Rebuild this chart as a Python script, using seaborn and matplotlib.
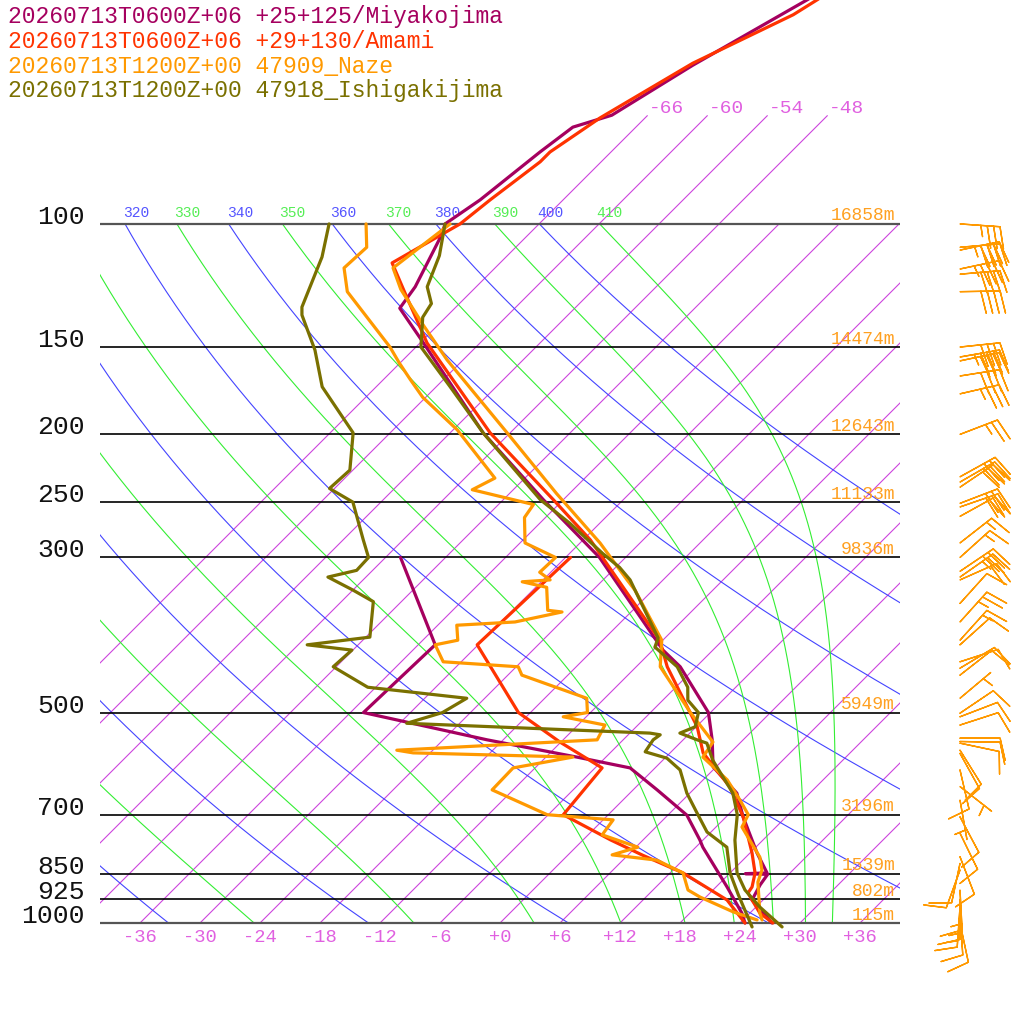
import numpy as np
import pandas as pd
import seaborn as sns
import matplotlib
matplotlib.use("Agg")
import matplotlib.pyplot as plt
from matplotlib.transforms import Affine2D

# ---- soundings: pressure (hPa) / temperature (degC) ----
miyako_p = [45, 47.8, 59.3, 69.9, 72.7, 78.9, 92.4, 100, 104, 123, 132, 147, 199, 248, 300,
            407, 430, 500, 547, 598, 652, 705, 794, 848, 850, 852, 882, 927, 1000]
miyako_t = [-60.2, -61.6, -66.5, -69.6, -72.3, -73.1, -74.3, -75.4, -74.6, -72.1, -71.5, -66.0,
            -50.7, -38.0, -26.6, -11.0, -7.6, -0.2, 2.9, 5.7, 10.7, 13.7, 18.7, 21.7, 19.6, 21.9,
            22.2, 22.9, 27.2]
miyako_td_p = [300, 400, 500, 547, 579, 600, 645, 701, 761, 779, 888, 968, 1000]
miyako_td = [-46.5, -34.3, -34.7, -19.6, -8.9, -2.5, 2.4, 7.9, 11.7, 12.7, 19.1, 23.2, 24.5]

amami_p = [45, 50.2, 58.9, 70.5, 78.9, 81.5, 92.4, 100, 113.7, 127, 148, 199, 248, 283, 394,
           430, 524, 571, 639, 705, 794, 848, 888, 906, 968, 1000]
amami_t = [-59.5, -61.5, -66.7, -70.5, -72.1, -72.1, -73.3, -73.9, -76.8, -72.0, -65.3, -50.0,
           -37.0, -29.3, -12.3, -8.9, 0.1, 3.3, 9.4, 13.7, 18.2, 20.5, 21.6, 21.8, 25.0, 27.3]
amami_td_p = [300, 400, 500, 551, 600, 700, 761, 800, 848, 927, 1000]
amami_td = [-29.5, -30.1, -19.2, -12.1, -5.3, -4.5, 2.8, 7.5, 13.3, 20.4, 24.5]

naze_p = [100, 115.6, 124, 140, 156.5, 199, 243, 286, 323, 334, 394, 430, 500, 551, 579, 624,
          667, 700, 729, 805, 840, 874, 968, 990]
naze_t = [-74.9, -76.2, -73.3, -67.3, -61.6, -48.3, -37.3, -28.0, -21.6, -19.8, -12.1, -9.6,
          -2.0, 3.2, 3.7, 8.4, 11.7, 14.0, 14.6, 19.4, 20.9, 21.7, 25.0, 25.9]
naze_td_p = [100, 108, 115.6, 125, 150, 158, 167, 177, 197, 231, 240, 252, 263, 286, 300, 315,
             323, 325, 331, 357, 359, 371, 375, 394, 400, 423, 430, 442, 477, 500, 507, 521,
             547, 566, 571, 579, 600, 645, 700, 712, 748, 779, 799, 813, 848, 897, 918, 964, 990]
naze_td = [-83.3, -80.9, -81.1, -78.4, -68.6, -66.1, -63.3, -60.3, -53.6, -45.0, -46.1, -38.5,
           -38.1, -35.5, -31.0, -31.1, -29.3, -31.9, -28.9, -26.5, -24.9, -28.6, -34.1, -32.5,
           -34.3, -31.8, -23.8, -22.6, -13.8, -12.3, -14.3, -9.3, -8.6, -27.6, -25.7, -9.3,
           -14.2, -14.1, -6.1, 1.0, 1.4, 6.2, 4.4, 9.4, 13.3, 15.5, 17.4, 22.2, 25.4]

ishi_p = [100, 111, 123, 130, 136, 150, 171, 199, 248, 268, 296, 310, 323, 391, 403, 430, 460,
          480, 500, 524, 535, 547, 553, 585, 652, 700, 761, 848, 897, 949, 1013]
ishi_t = [-75.4, -72.8, -70.9, -68.8, -68.3, -65.5, -58.6, -50.7, -38.3, -33.0, -26.7, -23.6,
          -21.3, -12.7, -12.1, -7.9, -4.8, -3.5, -1.2, -0.1, -1.0, 1.4, 2.7, 5.0, 10.3, 12.9,
          15.2, 18.7, 21.2, 24.4, 28.6]
ishi_td_p = [100, 111.5, 131.5, 135, 151.5, 171, 199, 225, 239, 250, 283, 300, 313, 320, 334,
             347, 390, 400, 407, 430, 460, 477, 500, 518, 535, 538, 547, 569, 581, 604, 652,
             696, 741, 779, 848, 911, 1013]
ishi_td = [-87.0, -84.4, -81.4, -80.6, -75.8, -71.4, -63.7, -60.3, -60.5, -56.8, -52.0, -49.7,
           -49.6, -51.8, -48.0, -44.8, -41.6, -47.1, -42.1, -42.3, -36.8, -25.8, -26.8, -29.3,
           -4.0, -2.8, -3.0, -2.6, 0.2, 2.7, 5.7, 8.7, 11.6, 15.1, 18.0, 21.0, 25.6]

names = ["20260713T0600Z+06 +25+125/Miyakojima",
         "20260713T0600Z+06 +29+130/Amami",
         "20260713T1200Z+00 47909_Naze",
         "20260713T1200Z+00 47918_Ishigakijima"]
colors = ["#A5005F", "#FF3300", "#FF9900", "#7A7000"]

# Naze winds: pressure (hPa), direction (deg, from), speed (kt)
barb_p = [100, 108, 109, 116, 118, 125, 150, 155, 157, 165, 175, 200, 230, 234, 238, 251, 254,
          262, 286, 300, 314, 320, 323, 349, 371, 394, 400, 423, 432, 442, 477, 501, 507, 521,
          544, 550, 553, 566, 572, 604, 638, 667, 705, 744, 804, 822, 840, 897, 925, 949, 974, 1000]
barb_dir = [94, 85, 78, 78, 85, 89, 84, 80, 78, 81, 77, 69, 61, 60, 56, 69, 71, 61, 52, 48, 56,
            55, 66, 42, 42, 42, 48, 72, 59, 52, 50, 56, 69, 72, 90, 91, 102, 148, 151, 167, 128,
            170, 152, 154, 159, 192, 200, 177, 180, 184, 176, 168]
barb_spd = [35, 45, 40, 45, 40, 40, 40, 45, 40, 40, 35, 25, 30, 30, 30, 30, 30, 20, 15, 15, 30,
            25, 20, 10, 25, 15, 10, 10, 10, 10, 5, 10, 10, 10, 10, 10, 10, 10, 10, 10, 5, 5, 10,
            10, 10, 10, 10, 15, 15, 15, 10, 10]

isobars = [100, 150, 200, 250, 300, 500, 700, 850, 925, 1000]
naze_hgt = ["16858m", "14474m", "12643m", "11133m", "9836m", "5949m", "3196m", "1539m",
            "802m", "115m"]
isotherms = list(range(-66, 37, 6))
dry_thetas = list(range(240, 401, 20))
moist_thetas = list(range(250, 411, 20))


def sat_mix(tk, p):
    es = 6.112 * np.exp(17.67 * (tk - 273.15) / (tk - 29.65))
    return 0.622 * es / (p - es)


def theta_e(tk, p=1000.0):
    rg = sat_mix(tk, p) * 1000
    return tk * (1000 / p) ** (0.2854 * (1 - 0.28e-3 * rg)) * \
        np.exp((3.376 / tk - 0.00254) * rg * (1 + 0.81e-3 * rg))


def moist_curve(te, ps):
    lo, hi = 200.0, 320.0
    for _ in range(60):
        mid = 0.5 * (lo + hi)
        if theta_e(mid) < te:
            lo = mid
        else:
            hi = mid

    def f(tk, p):
        rs = sat_mix(tk, p)
        return (287.04 * tk + 2.501e6 * rs) / \
            (p * (1005.7 + 2.501e6 ** 2 * rs * 0.622 / (287.04 * tk ** 2)))

    t = [lo]
    for p0, p1 in zip(ps[:-1], ps[1:]):
        h = p1 - p0
        tk = t[-1]
        k1 = f(tk, p0)
        k2 = f(tk + h * k1 / 2, p0 + h / 2)
        k3 = f(tk + h * k2 / 2, p0 + h / 2)
        k4 = f(tk + h * k3, p1)
        t.append(tk + h * (k1 + 2 * k2 + 2 * k3 + k4) / 6)
    return np.array(t) - 273.15


sns.set_theme(style="white")
plt.rcParams["font.family"] = ["Liberation Mono", "DejaVu Sans Mono"]

fig = plt.figure(figsize=(10.24, 10.24), dpi=100)

P_TOP = 1000 * np.exp(-923 / 303.6)
P_BOT = 1050.0
y_bot = 923 + 303.6 * np.log(P_BOT / 1000)
rect_b = 1 - y_bot / 1024
rect_h = y_bot / 1024

ax = fig.add_axes([100 / 1024, rect_b, 800 / 1024, rect_h])
ax.set_autoscale_on(False)
ax.set_yscale("log")
ax.set_xlim(-40, 40)
ax.set_ylim(P_BOT, P_TOP)
ax.axis("off")

y0 = ax.transData.transform((0, 1000))[1]
trans = ax.transData + Affine2D().translate(0, -y0).skew_deg(45, 0).translate(0, y0)

# isotherms
for t in isotherms:
    ptop = 70 if t <= -48 else 100
    ax.plot([t, t], [1000, ptop], color="#CC44DD", lw=0.8, transform=trans, zorder=1)
    if t <= -48:
        ax.annotate(f"{t:+d}", xy=(t, ptop), xycoords=trans, xytext=(2, 7),
                    textcoords="offset pixels", ha="left", va="center",
                    color="#E060E0", fontsize=14)
for t in range(-36, 37, 6):
    ax.annotate(f"{t:+d}", xy=(t, 1000), xycoords=trans, xytext=(0, -14),
                textcoords="offset pixels", ha="center", va="center",
                color="#E060E0", fontsize=13.5, annotation_clip=False)

ps = np.geomspace(1000, 100, 300)
for th in dry_thetas:
    tt = th * (ps / 1000) ** 0.2857 - 273.15
    ax.plot(tt, ps, color="#4444FF", lw=0.8, transform=trans, zorder=1)
    if th >= 320:
        ax.annotate(str(th), xy=(tt[-1], 100), xycoords=trans, xytext=(-2, 11),
                    textcoords="offset pixels", ha="left", va="center",
                    color="#5555FF", fontsize=10.5)

for te in moist_thetas:
    tt = moist_curve(te, ps)
    ax.plot(tt, ps, color="#33EE33", lw=0.8, transform=trans, zorder=1)
    if te >= 310:
        txt = ax.annotate(str(te), xy=(tt[-1], 100), xycoords=trans, xytext=(-3, 11),
                          textcoords="offset pixels", ha="left", va="center",
                          color="#55EE55", fontsize=10.5)
        txt.set_clip_on(True)
        txt.set_clip_box(ax.bbox)

for p, hgt in zip(isobars, naze_hgt):
    edge = p in (100, 1000)
    ax.axhline(p, color="#555555" if edge else "black", lw=1.6 if edge else 1.2, zorder=2)
    ax.annotate(str(p), xy=(0, p), xycoords=("axes fraction", "data"), xytext=(-15, 7),
                textcoords="offset pixels", ha="right", va="center",
                color="#111111", fontsize=19, annotation_clip=False)
    ax.annotate(hgt, xy=(1, p), xycoords=("axes fraction", "data"), xytext=(-5, 8),
                textcoords="offset pixels", ha="right", va="center",
                color="#FFA020", fontsize=13)

rows = []
for name, pt, tt, pd_, td in [
        (names[0], miyako_p, miyako_t, miyako_td_p, miyako_td),
        (names[1], amami_p, amami_t, amami_td_p, amami_td),
        (names[2], naze_p, naze_t, naze_td_p, naze_td),
        (names[3], ishi_p, ishi_t, ishi_td_p, ishi_td)]:
    rows.append(pd.DataFrame({"p": pt, "t": tt, "station": name, "kind": "T"}))
    rows.append(pd.DataFrame({"p": pd_, "t": td, "station": name, "kind": "Td"}))
df = pd.concat(rows, ignore_index=True)

sns.lineplot(data=df, x="t", y="p", hue="station", units="kind", estimator=None, sort=False,
             palette=dict(zip(names, colors)), linewidth=2.3, legend=False, ax=ax,
             transform=trans, zorder=5)
ax.set_xlim(-40, 40)
ax.set_ylim(P_BOT, P_TOP)
ax.axis("off")

# wind barbs (Naze)
bax = fig.add_axes([920 / 1024, rect_b, 104 / 1024, rect_h])
bax.set_yscale("log")
bax.set_xlim(0, 104)
bax.set_ylim(P_BOT, P_TOP)
bax.axis("off")
d = np.deg2rad(barb_dir)
spd = np.array(barb_spd, dtype=float)
bax.barbs(np.full(len(barb_p), 40.0), barb_p, -spd * np.sin(d), -spd * np.cos(d),
          length=7.6, sizes=dict(spacing=0.16, height=0.55, width=0.25),
          color="#FF9900", linewidth=1.0, clip_on=False)

for i, (name, c) in enumerate(zip(names, colors)):
    fig.text(8 / 1024, 1 - (17 + 24.5 * i) / 1024, name, color=c, fontsize=16.6,
             ha="left", va="center")

fig.savefig("out.png", dpi=100)
